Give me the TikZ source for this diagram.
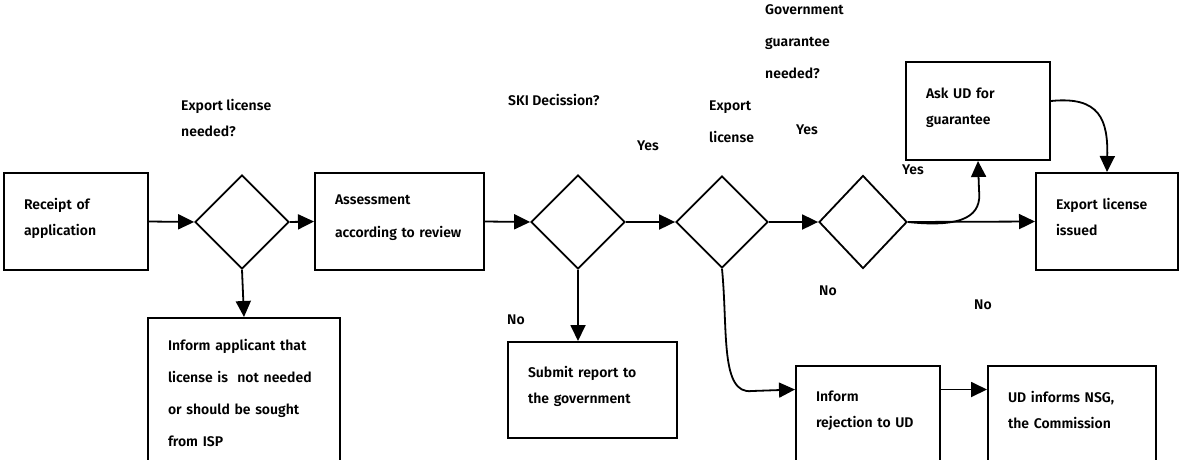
\documentclass[tikz,border=0pt]{standalone}
\usepackage{fontspec}
\setmainfont{Fira Sans}[BoldFont={Fira Sans SemiBold}]
\usepackage{tikz}
\usetikzlibrary{arrows.meta}
\usetikzlibrary{calc}
\usetikzlibrary{shapes.geometric}
\newcommand{\bnode}[5]{\node(#1)[item, text width=#3, minimum height=#4] at (#2) {#5\\[-16pt]\mbox{}}}
\newcommand{\dnode}[4]{\node(#1)[decision, minimum width=#3, minimum height=#4] at (#2) {}}
\newcommand{\tnode}[3]{\node(#1)[tag] at (#2) {#3}}

\begin{document}
\begin{tikzpicture}[
        x=1pt, y=-1pt,
        every node/.style={font=\bfseries\fontsize{14}{26}\selectfont},
        item/.style={rectangle, draw=black, line width=2pt, align=left,
                     inner xsep=20pt, inner ysep=0pt},
        decision/.style={diamond, draw=black, line width=1.8pt, inner sep=0pt},
        tag/.style={anchor=west, align=left, inner sep=0pt},
        flow/.style={line width=1.8pt, -{Triangle[length=16pt,width=15pt]}}
      ]
      \useasboundingbox (0,0) rectangle (1180,459);
      \clip (0,0) rectangle (1180,459);

      \bnode{rec}{76,221.5}{104pt}{97pt}{Receipt of\\application};
      \dnode{d1}{242,222}{94pt}{94pt};
      \bnode{assess}{399.5,221.5}{129pt}{97pt}{Assessment\\[7pt]according to review};
      \bnode{inform}{244,398}{152pt}{160pt}{Inform applicant that\\[6pt]license is\ \ not needed\\[6pt]or should be sought\\[6pt]from ISP};
      \dnode{d2}{578,222}{94pt}{94pt};
      \bnode{submit}{592.5,390}{129pt}{96pt}{Submit report to\\the government};
      \dnode{d3}{722,222}{92pt}{92pt};
      \dnode{d4}{863,222}{88pt}{93pt};
      \bnode{askud}{978,111}{104pt}{98pt}{Ask UD for\\guarantee};
      \bnode{issued}{1107,221.5}{102pt}{97pt}{Export license\\issued};
      \bnode{reject}{868,414.5}{104pt}{97pt}{Inform\\rejection to UD};
      \bnode{udnsg}{1072,414.5}{128pt}{97pt}{UD informs NSG,\\the Commission};

      \tnode{q1}{181,118}{Export license\\needed?};
      \tnode{q2}{508,100}{SKI Decission?};
      \tnode{q3}{709,122}{Export\\[6pt]license};
      \tnode{q4}{765,42}{Government\\[6pt]guarantee\\[6pt]needed?};
      \tnode{y2}{637,146}{Yes};
      \tnode{y3}{796,130}{Yes};
      \tnode{y4}{902,170}{Yes};
      \tnode{n2}{507,320}{No};
      \tnode{n3}{819,291}{No};
      \tnode{n4}{974,305}{No};

      \coordinate (rejin) at ($(reject.west)+(0,-25)$);
      \coordinate (rejout) at ($(reject.east)+(0,-25)$);

      \draw[flow] (rec.east) -- (d1.west);
      \draw[flow] (d1.east) -- (assess.west);
      \draw[flow] (d1.south) -- (inform.north);
      \draw[flow] (assess.east) -- (d2.west);
      \draw[flow] (d2.south) -- (d2.south |- submit.north);
      \draw[flow] (d2.east) -- (d3.west);
      \draw[flow] (d3.east) -- (d4.west);
      \draw[flow] (d4.east) -- (issued.west);
      \draw[flow] (d4.east) .. controls (965,228) and (982,215) .. (979,190) -- (askud.south);
      \draw[flow] ($(askud.east)+(0,-10)$) .. controls (1100,96) and (1108,120) .. (issued.north);
      \draw[flow] (d3.south) .. controls (728,330) and (720,395) .. (752,391) -- (rejin);
      \draw[flow] (rejout) -- (udnsg.west |- rejout);
    \end{tikzpicture}
\end{document}
